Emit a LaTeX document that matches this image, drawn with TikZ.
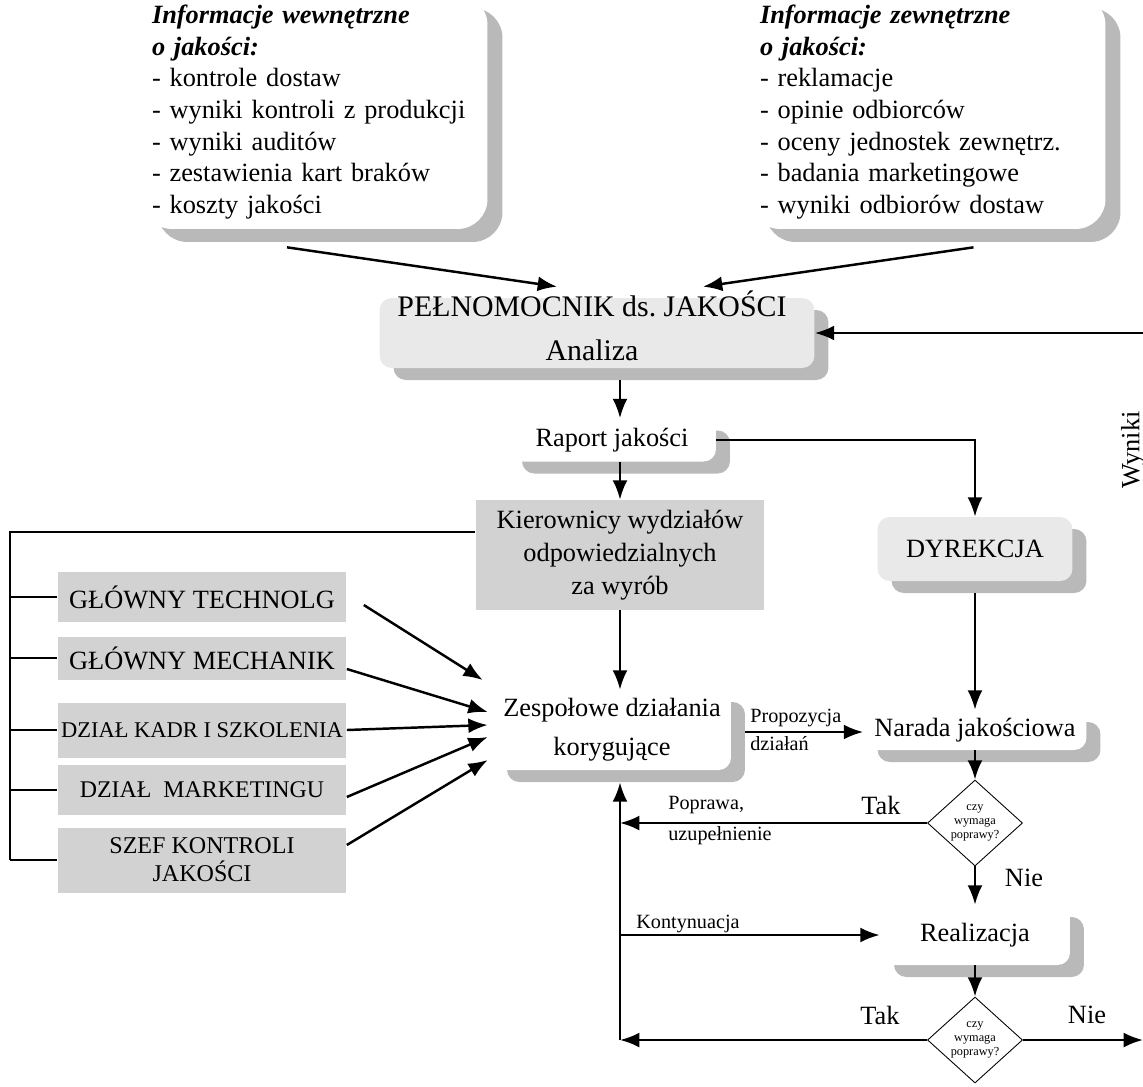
\documentclass[tikz,border=0pt]{standalone}
\usepackage{fontspec}
\setmainfont{Liberation Serif}
\usetikzlibrary{arrows.meta, shapes.geometric, shadows}
\tikzset{>={Latex[length=11pt,width=8.5pt]}}
\tikzset{
  conn/.style={line width=1.4pt},
  body/.style={font=\fontsize{15}{18}\selectfont},
  info/.style={body, fill=white, rounded corners=17pt, align=left, inner xsep=0.19cm, inner ysep=0pt,
    drop shadow={shadow xshift=0.3cm, shadow yshift=-0.26cm, fill=gray!55, opacity=1}},
  shadowed/.style={body, fill=white, rounded corners=7pt, inner sep=0pt,
    drop shadow={shadow xshift=0.28cm, shadow yshift=-0.24cm, fill=gray!55, opacity=1}},
  light/.style={shadowed, fill=gray!17},
  dept/.style={fill=gray!35, inner sep=0pt, minimum width=5.78cm, align=center},
  small/.style={font=\fontsize{11.5}{16}\selectfont, inner sep=0pt},
  decision/.style={diamond, draw, line width=0.5pt, fill=white, minimum width=1.9cm, minimum height=1.72cm,
    inner sep=0pt, align=center, font=\fontsize{7}{8}\selectfont}
}

\begin{document}
\begin{tikzpicture}[x=0.02cm, y=-0.02cm]
  \useasboundingbox (0,0) rectangle (1143,1086);
  % zrodla informacji
  \node[info, text width=6.52cm, minimum height=4.68cm] (wew) at (315,112)
    {\textbf{\textit{Informacje wewnętrzne}}\\\textbf{\textit{o jakości:}}\\- kontrole dostaw\\- wyniki kontroli z produkcji\\- wyniki auditów\\- zestawienia kart braków\\- koszty jakości};
  \node[info, text width=6.72cm, minimum height=4.68cm] (zew) at (928,112)
    {\textbf{\textit{Informacje zewnętrzne}}\\\textbf{\textit{o jakości:}}\\- reklamacje\\- opinie odbiorców\\- oceny jednostek zewnętrz.\\- badania marketingowe\\- wyniki odbiorów dostaw};
  % analiza i raport
  \node[light, minimum width=8.7cm, minimum height=1.4cm] (pel) at (597,333) {};
  \node[align=center, inner sep=0pt, font=\fontsize{17}{25}\selectfont] (peltxt) at (592,326)
    {PEŁNOMOCNIK ds.\ JAKOŚCI\\Analiza};
  \node[shadowed, minimum width=4.16cm, minimum height=0.86cm] (rap) at (612,440) {Raport jakości};
  \node[dept, minimum height=2.2cm, font=\fontsize{15}{18.7}\selectfont] (kier) at (620,555)
    {Kierownicy wydziałów\\odpowiedzialnych\\za wyrób};
  \node[light, minimum width=3.9cm, minimum height=1.28cm] (dyr) at (975,549) {DYREKCJA};
  \node[shadowed, minimum width=4.76cm, minimum height=1.6cm, align=center, font=\fontsize{15}{22}\selectfont] (zesp) at (612,730)
    {Zespołowe działania\\korygujące};
  \node[shadowed, minimum width=4.46cm, minimum height=0.8cm] (nar) at (975,730) {Narada jakościowa};
  \node[decision] (d1) at (975,823) {czy\\wymaga\\poprawy?};
  \node[shadowed, minimum width=3.8cm, minimum height=1.2cm] (real) at (975,935) {Realizacja};
  \node[decision] (d2) at (975,1040) {czy\\wymaga\\poprawy?};
  % dzialy
  \node[dept, minimum height=1.0cm, font=\fontsize{15}{18}\selectfont] (tech) at (202,597) {GŁÓWNY TECHNOLG};
  \node[dept, minimum height=0.86cm, font=\fontsize{15}{18}\selectfont] (mech) at (202,658) {GŁÓWNY MECHANIK};
  \node[dept, minimum height=1.1cm, font=\fontsize{12.8}{16}\selectfont] (kadr) at (202,730) {DZIAŁ KADR I SZKOLENIA};
  \node[dept, minimum height=1.0cm, font=\fontsize{13.6}{16}\selectfont] (mark) at (202,790) {DZIAŁ\ \ MARKETINGU};
  \node[dept, minimum height=1.3cm, font=\fontsize{13.7}{16}\selectfont] (szef) at (202,860) {SZEF KONTROLI\\JAKOŚCI};
  % opisy
  \node[body, rotate=90] (wynlab) at (1133,450) {Wyniki};
  \node[small, align=left, anchor=west] (prop) at (750,730) {Propozycja\\działań};
  \node[small, anchor=west] (popr) at (668,805) {Poprawa,};
  \node[small, anchor=west] (uzup) at (668,836) {uzupełnienie};
  \node[small, anchor=west] (kont) at (636,924) {Kontynuacja};
  \node[body] (tak1) at (881,805) {Tak};
  \node[body] (nie1) at (1024,878) {Nie};
  \node[body] (tak2) at (880,1015) {Tak};
  \node[body] (nie2) at (1087,1015) {Nie};
  % polaczenia
  \draw[conn,->] ([xshift=-0.56cm,yshift=-0.36cm]wew.south) -- ([xshift=-0.8cm,yshift=0.22cm]pel.north);
  \draw[conn,->] ([xshift=0.91cm,yshift=-0.36cm]zew.south) -- ([xshift=2.12cm,yshift=0.22cm]pel.north);
  \coordinate (wyn) at (1143,333);
  \draw[conn,->] (wyn) -- (pel.east);
  \draw[conn,->] (kier.north |- pel.south) ++(0,12) -- (kier.north |- rap.north);
  \draw[conn,->] (kier.north |- rap.south) -- (kier.north);
  \draw[conn,->] (rap.east) -| (dyr.north);
  \draw[conn,->] (dyr.south) ++(0,12) -- (nar.north);
  \draw[conn,->] (kier.south) -- (kier.south |- zesp.north);
  \draw[conn,->] ([xshift=0.28cm,yshift=-0.04cm]zesp.east) -- ([yshift=-0.04cm]nar.west);
  \draw[conn,->] (nar.south) -- (d1.north);
  \draw[conn,->] (d1.south) -- (real.north);
  \draw[conn,->] (real.south) -- (d2.north);
  \coordinate (vbot) at (620,1040);
  \coordinate (zbot) at ([yshift=-0.24cm]zesp.south);
  \coordinate (wynR) at (1143,1040);
  \draw[conn,->] (d2.west) -- (vbot);
  \draw[conn,->] (vbot) -- (vbot |- zbot);
  \draw[conn,->] (d1.west) -- (d1.west -| vbot);
  \draw[conn,->] (vbot |- real.west) -- (real.west);
  \draw[conn,->] (d2.east) -- (wynR);
  % lewa szyna
  \coordinate (trunk) at (10,860);
  \draw[conn] ([yshift=0.46cm]kier.west) -| (trunk);
  \foreach \n in {tech,mech,kadr,mark,szef}
    \draw[conn] (\n.west) -- (\n.west -| trunk);
  \draw[conn,->] ([xshift=0.34cm,yshift=-0.16cm]tech.east) -- ([xshift=-0.2cm,yshift=1.0cm]zesp.west);
  \draw[conn,->] ([yshift=-0.22cm]mech.east) -- ([xshift=-0.1cm,yshift=0.36cm]zesp.west);
  \draw[conn,->] (kadr.east) -- ([xshift=-0.1cm,yshift=0.1cm]zesp.west);
  \draw[conn,->] ([yshift=-0.14cm]mark.east) -- ([xshift=-0.1cm,yshift=-0.14cm]zesp.west);
  \draw[conn,->] ([yshift=0.3cm]szef.east) -- ([xshift=-0.1cm,yshift=-0.6cm]zesp.west);
\end{tikzpicture}
\end{document}
